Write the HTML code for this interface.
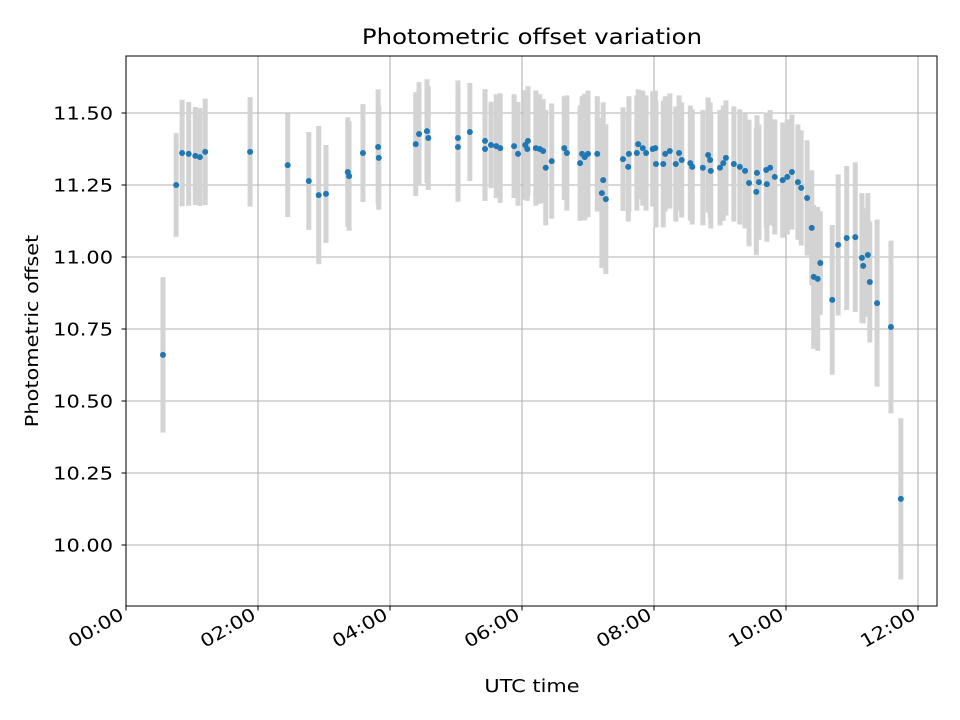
<!DOCTYPE html>
<html><head><meta charset="utf-8"><style>
html,body{margin:0;padding:0;background:#fff;}
svg{display:block;font-family:"DejaVu Sans","Liberation Sans",sans-serif;}
</style></head><body>
<svg id="chart" width="960" height="720" viewBox="0 0 960 720" xmlns="http://www.w3.org/2000/svg">
<rect width="960" height="720" fill="#fff"/>
<text class="st" x="532" y="44" font-size="21" text-anchor="middle" fill="#000">Photometric offset variation</text>
<text class="st" x="532" y="692" font-size="18" text-anchor="middle" fill="#000">UTC time</text>
<text class="st" x="38" y="331" font-size="18" text-anchor="middle" fill="#000" transform="rotate(-90 38 331)">Photometric offset</text>
<g id="grid"></g><g id="bars"></g><g id="pts"></g><g id="axes"></g>
</svg>
<script>
const hours=[0.56,0.76,0.85,0.95,1.05,1.12,1.20,1.88,2.45,2.77,2.92,3.03,3.36,3.38,3.59,3.82,3.83,4.39,4.44,4.56,4.58,5.03,5.03,5.21,5.44,5.44,5.53,5.61,5.67,5.88,5.94,6.05,6.09,6.08,6.21,6.27,6.32,6.36,6.45,6.64,6.68,6.88,6.91,6.95,7.00,7.14,7.23,7.21,7.27,7.53,7.61,7.62,7.74,7.76,7.83,7.88,7.98,8.02,8.03,8.14,8.17,8.24,8.33,8.38,8.42,8.55,8.58,8.74,8.82,8.85,8.86,9.00,9.05,9.09,9.21,9.30,9.38,9.44,9.56,9.55,9.59,9.70,9.76,9.71,9.83,9.95,10.02,10.09,10.18,10.23,10.32,10.39,10.52,10.42,10.48,10.70,10.79,10.92,11.05,11.15,11.17,11.24,11.27,11.38,11.59,11.74];
const values=[10.66,11.25,11.361,11.358,11.351,11.347,11.365,11.365,11.319,11.264,11.215,11.219,11.295,11.281,11.361,11.382,11.344,11.392,11.427,11.437,11.413,11.413,11.382,11.434,11.403,11.375,11.389,11.385,11.378,11.385,11.358,11.389,11.403,11.375,11.378,11.375,11.368,11.310,11.333,11.378,11.361,11.326,11.358,11.347,11.358,11.358,11.267,11.222,11.201,11.340,11.313,11.358,11.361,11.392,11.378,11.361,11.375,11.378,11.323,11.323,11.358,11.368,11.323,11.361,11.337,11.326,11.313,11.310,11.354,11.337,11.299,11.310,11.326,11.344,11.323,11.313,11.299,11.257,11.292,11.226,11.260,11.302,11.310,11.253,11.278,11.267,11.278,11.295,11.260,11.240,11.205,11.101,10.979,10.931,10.924,10.851,11.042,11.066,11.069,10.997,10.969,11.007,10.913,10.840,10.757,10.160];
const errors=[0.27,0.18,0.185,0.18,0.17,0.17,0.185,0.19,0.18,0.17,0.24,0.17,0.19,0.19,0.17,0.2,0.18,0.18,0.18,0.18,0.18,0.2,0.19,0.17,0.18,0.18,0.15,0.18,0.19,0.18,0.18,0.19,0.19,0.18,0.2,0.19,0.18,0.2,0.2,0.18,0.2,0.2,0.2,0.22,0.22,0.2,0.27,0.26,0.26,0.18,0.19,0.2,0.2,0.19,0.2,0.2,0.2,0.2,0.22,0.22,0.2,0.2,0.2,0.2,0.2,0.2,0.2,0.2,0.2,0.2,0.2,0.2,0.2,0.2,0.2,0.2,0.2,0.22,0.2,0.22,0.2,0.2,0.2,0.2,0.2,0.2,0.2,0.2,0.2,0.2,0.2,0.2,0.18,0.25,0.25,0.26,0.245,0.25,0.26,0.225,0.2,0.215,0.21,0.29,0.30,0.28];
const yTicks=[10.00,10.25,10.50,10.75,11.00,11.25,11.50];
const xTicks=[0,2,4,6,8,10,12];
const xTickLabels=["00:00","02:00","04:00","06:00","08:00","10:00","12:00"];
const L=126,R=937,T=56,B=606;
const X=h=>126+h*66;
const Y=v=>545-(v-10)*288;
const NS="http://www.w3.org/2000/svg";
function mk(tag,attrs,parent){const e=document.createElementNS(NS,tag);for(const k in attrs)e.setAttribute(k,attrs[k]);parent.appendChild(e);return e;}
const grid=document.getElementById('grid'),bars=document.getElementById('bars'),pts=document.getElementById('pts'),axes=document.getElementById('axes');
yTicks.forEach((t,i)=>{
  const y=Y(t);
  const g=mk('line',{x1:L,x2:R,y1:y,y2:y,stroke:'#b0b0b0','stroke-width':1.1},grid);
  
  
  const tk=mk('line',{x1:L-4.5,x2:L,y1:y,y2:y,stroke:'#000','stroke-width':1},axes);
  
  
  const tx=mk('text',{x:L-13,y:y+6.5,'font-size':18,'text-anchor':'end',fill:'#000','class':'st'},axes);
  tx.textContent=t.toFixed(2);
  
  
});
xTicks.forEach((t,i)=>{
  const x=X(t);
  const g=mk('line',{x1:x,x2:x,y1:T,y2:B,stroke:'#b0b0b0','stroke-width':1.1},grid);
  
  
  const tk=mk('line',{x1:x,x2:x,y1:B,y2:B+4.5,stroke:'#000','stroke-width':1},axes);
  
  
  const ax=x-1,ay=B+12;
  const tx=mk('text',{x:ax,y:ay,'font-size':18,'text-anchor':'end',fill:'#000','class':'st',transform:`rotate(-30 ${ax} ${ay})`},axes);
  tx.textContent=xTickLabels[i];
  
  
});
hours.forEach((h,i)=>{
  const b=mk('line',{x1:X(h),x2:X(h),y1:Y(values[i]+errors[i]),y2:Y(values[i]-errors[i]),stroke:'#d3d3d3','stroke-width':5},bars);
  
  
});
hours.forEach((h,i)=>{
  const c=mk('circle',{cx:X(h),cy:Y(values[i]),r:3,fill:'#1f77b4'},pts);
  
  
});
const fr=mk('rect',{x:L,y:T,width:R-L,height:B-T,fill:'none',stroke:'#000','stroke-width':1},axes);


document.querySelectorAll('text.st').forEach(t=>{
  const w=t.getComputedTextLength();
  t.setAttribute('textLength',(w*1.16).toFixed(1));
  t.setAttribute('lengthAdjust','spacingAndGlyphs');
});
</script>
</body></html>
